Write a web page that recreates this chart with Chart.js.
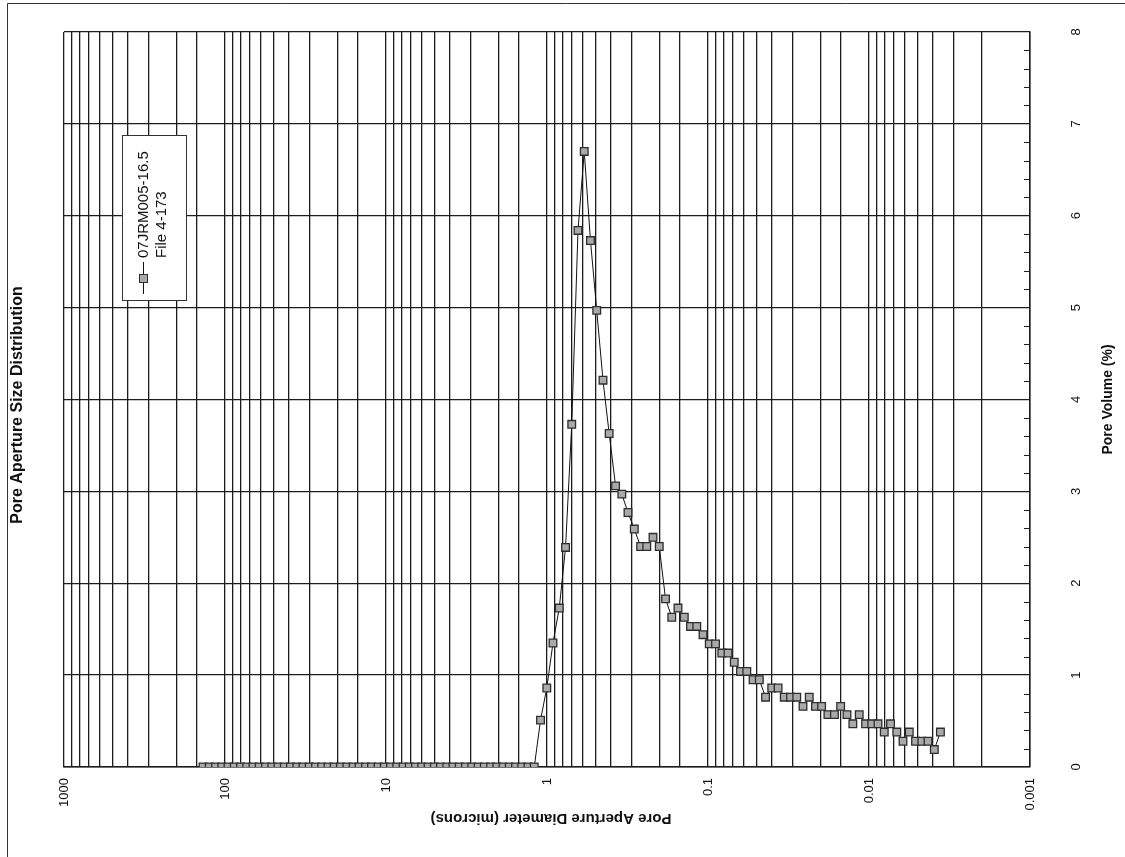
<!DOCTYPE html>
<html>
<head>
<meta charset="utf-8">
<script src="https://cdn.jsdelivr.net/npm/chart.js@4/dist/chart.umd.min.js"></script>
<style>
  html, body { margin: 0; padding: 0; background: #fff; }
  #wrap { width: 1125px; height: 857px; }
</style>
</head>
<body>
<div id="wrap"><canvas id="chartPore" width="1125" height="857"></canvas></div>
<script>
/* =========================
   DATA
========================= */

const seriesName = ["07JRM005-16.5", "File 4-173"];

// pore aperture diameter (microns), largest first
const diameters = [
  136.9, 125.2, 114.6, 104.7, 95.8, 87.6, 80.1, 73.3, 67.0, 61.3,
  56.0, 51.2, 46.9, 42.8, 39.2, 35.8, 32.8, 30.0, 27.4, 25.1,
  22.9, 21.0, 19.2, 17.5, 16.0, 14.7, 13.4, 12.3, 11.2, 10.25,
  9.38, 8.58, 7.84, 7.17, 6.56, 6.00, 5.48, 5.01, 4.59, 4.19,
  3.84, 3.51, 3.21, 2.93, 2.68, 2.45, 2.24, 2.05, 1.876, 1.716,
  1.569, 1.435, 1.312, 1.200,
  1.097, 1.003, 0.918, 0.839, 0.767, 0.702, 0.642, 0.587, 0.537, 0.491,
  0.449, 0.411, 0.375, 0.343, 0.314, 0.287, 0.262, 0.240, 0.2196, 0.2008,
  0.1836, 0.1679, 0.1536, 0.1404, 0.1284, 0.1174, 0.1074, 0.0982, 0.0898, 0.0821,
  0.0751, 0.0687, 0.0628, 0.0574, 0.0525, 0.0480, 0.0439, 0.0402, 0.0367, 0.0336,
  0.0307, 0.0281, 0.0257, 0.0235, 0.0215, 0.0197, 0.0180, 0.0164, 0.0150, 0.0137,
  0.0126, 0.0115, 0.0105, 0.00961, 0.00879, 0.00804, 0.00735, 0.00672, 0.00615, 0.00562,
  0.00514, 0.00470, 0.00430, 0.00393, 0.00360
];

// pore volume (%)
const poreVolume = [
  0, 0, 0, 0, 0, 0, 0, 0, 0, 0,
  0, 0, 0, 0, 0, 0, 0, 0, 0, 0,
  0, 0, 0, 0, 0, 0, 0, 0, 0, 0,
  0, 0, 0, 0, 0, 0, 0, 0, 0, 0,
  0, 0, 0, 0, 0, 0, 0, 0, 0, 0,
  0, 0, 0, 0,
  0.51, 0.86, 1.35, 1.73, 2.39, 3.73, 5.84, 6.70, 5.73, 4.97,
  4.21, 3.63, 3.06, 2.97, 2.77, 2.59, 2.40, 2.40, 2.50, 2.40,
  1.83, 1.63, 1.73, 1.63, 1.53, 1.53, 1.44, 1.34, 1.34, 1.24,
  1.24, 1.14, 1.04, 1.04, 0.95, 0.95, 0.76, 0.86, 0.86, 0.76,
  0.76, 0.76, 0.66, 0.76, 0.66, 0.66, 0.57, 0.57, 0.66, 0.57,
  0.47, 0.57, 0.47, 0.47, 0.47, 0.38, 0.47, 0.38, 0.28, 0.38,
  0.28, 0.28, 0.28, 0.19, 0.38
];

const xTickValues = [1000, 100, 10, 1, 0.1, 0.01, 0.001];
const xTickLabels = ["1000", "100", "10", "1", "0.1", "0.01", "0.001"];
const yTickValues = [0, 1, 2, 3, 4, 5, 6, 7, 8];
const yTickLabels = ["0", "1", "2", "3", "4", "5", "6", "7", "8"];

const chartTitle = "Pore Aperture Size Distribution";
const xTitle = "Pore Aperture Diameter (microns)";
const yTitle = "Pore Volume (%)";

/* =========================
   ESTILO
========================= */

const FONT = "'Liberation Sans', Arial, Helvetica, sans-serif";
const INK = "#1c1c1c";
const MARK_FILL = "#a9a9a9";
const MARK_EDGE = "#2e2e2e";

function rotText(ctx, txt, x, y, ang, font, align) {
  ctx.save();
  ctx.translate(x, y);
  ctx.rotate(ang);
  ctx.font = font;
  ctx.fillStyle = "#111";
  ctx.textAlign = align || "center";
  ctx.textBaseline = "middle";
  ctx.fillText(txt, 0, 0);
  ctx.restore();
}

/* =========================
   PLUGIN: textos girados, ticks menores, legenda
========================= */

const decorPlugin = {
  id: "decor",
  afterDraw(chart) {
    const ctx = chart.ctx;
    const area = chart.chartArea;
    const sx = chart.scales.x;
    const sy = chart.scales.y;

    // moldura externa
    ctx.save();
    ctx.strokeStyle = "#333";
    ctx.lineWidth = 1;
    ctx.beginPath();
    ctx.moveTo(7.5, 857);
    ctx.lineTo(7.5, 3.5);
    ctx.lineTo(1125, 3.5);
    ctx.stroke();

    // ticks menores do eixo y (para dentro)
    ctx.strokeStyle = INK;
    ctx.lineWidth = 1.2;
    ctx.beginPath();
    for (let k = 1; k < 40; k++) {
      if (k % 5 === 0) continue;
      const py = Math.round(sy.getPixelForValue(k * 0.2)) + 0.5;
      ctx.moveTo(area.right - 6, py);
      ctx.lineTo(area.right, py);
    }
    ctx.stroke();
    ctx.restore();

    // rótulos do eixo x
    xTickValues.forEach((v, i) => {
      const px = sx.getPixelForValue(v);
      rotText(ctx, xTickLabels[i], px, area.bottom + 11, -Math.PI / 2, "13px " + FONT, "right");
    });

    // rótulos do eixo y
    yTickValues.forEach((v, i) => {
      const py = sy.getPixelForValue(v);
      rotText(ctx, yTickLabels[i], area.right + 46, py, -Math.PI / 2, "13px " + FONT, "center");
    });

    // títulos
    rotText(ctx, chartTitle, 18, 405, -Math.PI / 2, "bold 16px " + FONT, "center");
    rotText(ctx, xTitle, (area.left + area.right) / 2 + 4, 818, Math.PI, "bold 15px " + FONT, "center");
    rotText(ctx, yTitle, area.right + 78, (area.top + area.bottom) / 2, -Math.PI / 2, "bold 14px " + FONT, "center");

    // legenda
    ctx.save();
    ctx.fillStyle = "#fff";
    ctx.strokeStyle = "#333";
    ctx.lineWidth = 1;
    ctx.fillRect(122, 135, 64, 165);
    ctx.strokeRect(122.5, 135.5, 64, 165);
    ctx.strokeStyle = "#111";
    ctx.beginPath();
    ctx.moveTo(143.5, 262);
    ctx.lineTo(143.5, 294);
    ctx.stroke();
    ctx.fillStyle = MARK_FILL;
    ctx.strokeStyle = MARK_EDGE;
    ctx.fillRect(139.5, 274.5, 8, 8);
    ctx.strokeRect(139.5, 274.5, 8, 8);
    ctx.restore();
    rotText(ctx, seriesName[0], 144, 258, -Math.PI / 2, "15px " + FONT, "left");
    rotText(ctx, seriesName[1], 162, 258, -Math.PI / 2, "15px " + FONT, "left");
  }
};

/* =========================
   CHART
========================= */

const points = diameters.map((d, i) => ({ x: d, y: poreVolume[i] }));

new Chart(document.getElementById("chartPore"), {
  type: "scatter",
  data: {
    datasets: [
      {
        label: seriesName.join(" "),
        data: points,
        showLine: true,
        borderColor: "#111",
        borderWidth: 1,
        pointStyle: "rect",
        pointRadius: 5.4,
        pointBackgroundColor: MARK_FILL,
        pointBorderColor: MARK_EDGE,
        pointBorderWidth: 1.3,
        tension: 0
      }
    ]
  },
  options: {
    responsive: false,
    animation: false,
    events: [],
    layout: { padding: { left: 64, right: 95, top: 32, bottom: 90 } },
    plugins: {
      legend: { display: false },
      tooltip: { enabled: false },
      title: { display: false }
    },
    scales: {
      x: {
        type: "logarithmic",
        reverse: true,
        min: 0.001,
        max: 1000,
        ticks: { display: false, autoSkip: false },
        grid: { color: INK, lineWidth: 1.3, drawTicks: false },
        border: { color: INK, width: 1.5 }
      },
      y: {
        type: "linear",
        position: "right",
        min: 0,
        max: 8,
        ticks: { display: false, stepSize: 1 },
        grid: { color: INK, lineWidth: 1.3, drawTicks: false },
        border: { color: INK, width: 1.5 }
      }
    }
  },
  plugins: [decorPlugin]
});
</script>
</body>
</html>
